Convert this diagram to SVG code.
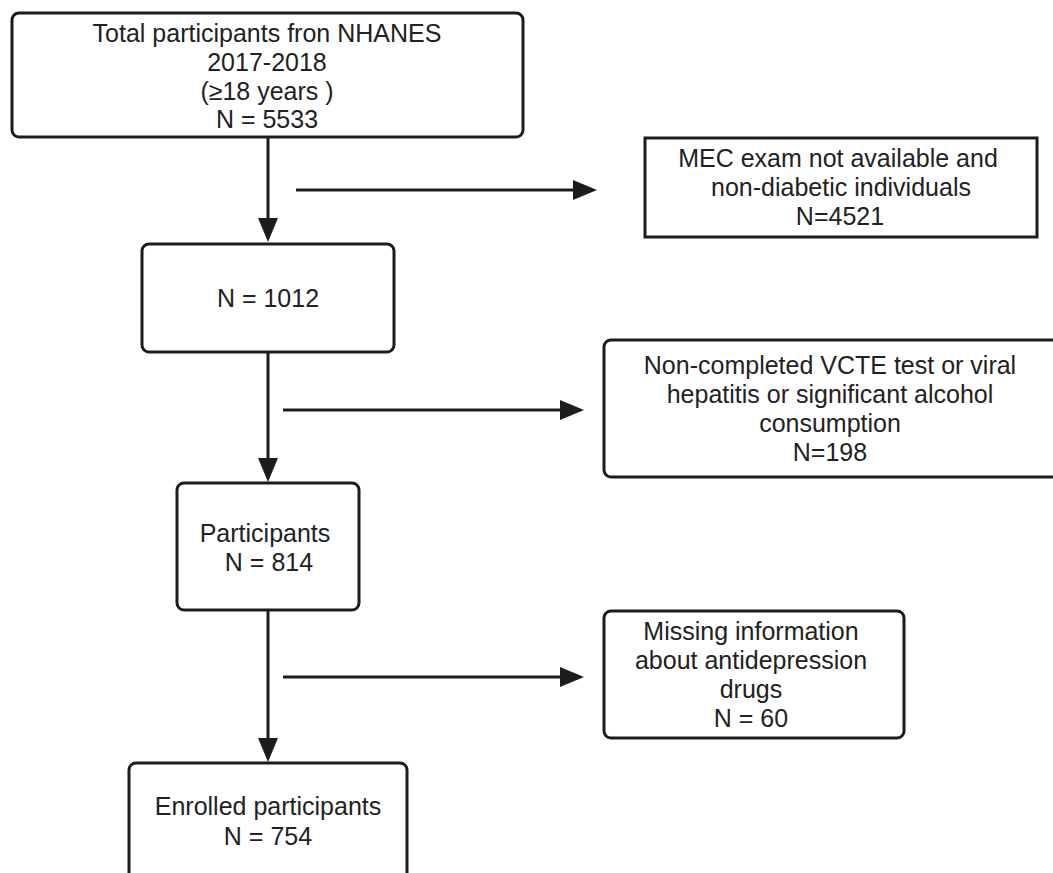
<svg xmlns="http://www.w3.org/2000/svg" width="1053" height="873" viewBox="0 0 1053 873">
  <style>
    .box { fill: #ffffff; stroke: #1c1c1c; stroke-width: 3; }
    .lbl { font-family: "Liberation Sans", Arial, sans-serif; font-size: 25px; fill: #222222; text-anchor: middle; }
    .edge { stroke: #1c1c1c; stroke-width: 3; fill: none; }
  </style>
  <defs>
    <marker id="ah" markerUnits="userSpaceOnUse" markerWidth="24" markerHeight="20" refX="14" refY="10" orient="auto">
      <path d="M0,0 L24,10 L0,20 Z" fill="#1c1c1c"/>
    </marker>
  </defs>
  <rect width="1053" height="873" fill="#ffffff"/>

  <g id="connectors">
    <line class="edge" x1="268" y1="138" x2="268" y2="232" marker-end="url(#ah)"/>
    <line class="edge" x1="296" y1="190" x2="587" y2="190" marker-end="url(#ah)"/>
    <line class="edge" x1="268" y1="352" x2="268" y2="472" marker-end="url(#ah)"/>
    <line class="edge" x1="283" y1="410" x2="574" y2="410" marker-end="url(#ah)"/>
    <line class="edge" x1="268" y1="611" x2="268" y2="752" marker-end="url(#ah)"/>
    <line class="edge" x1="283" y1="677" x2="574" y2="677" marker-end="url(#ah)"/>
  </g>

  <g id="node-total">
    <rect class="box" x="12" y="13" width="511" height="124" rx="7"/>
    <text class="lbl" x="267" y="42">Total participants fron NHANES</text>
    <text class="lbl" x="267" y="71">2017-2018</text>
    <text class="lbl" x="267" y="99.5">(≥18 years )</text>
    <text class="lbl" x="267" y="128">N = 5533</text>
  </g>

  <g id="node-mec">
    <rect class="box" x="645" y="138" width="392" height="99"/>
    <text class="lbl" x="838" y="167">MEC exam not available and</text>
    <text class="lbl" x="841" y="196">non-diabetic individuals</text>
    <text class="lbl" x="840" y="225">N=4521</text>
  </g>

  <g id="node-1012">
    <rect class="box" x="142" y="244" width="252" height="108" rx="7"/>
    <text class="lbl" x="268" y="307">N = 1012</text>
  </g>

  <g id="node-vcte">
    <rect class="box" x="604" y="340" width="470" height="137" rx="7"/>
    <text class="lbl" x="830" y="373.5">Non-completed VCTE test or viral</text>
    <text class="lbl" x="830" y="402.5">hepatitis or significant alcohol</text>
    <text class="lbl" x="830" y="431.5">consumption</text>
    <text class="lbl" x="830" y="461">N=198</text>
  </g>

  <g id="node-814">
    <rect class="box" x="177" y="483" width="182" height="127" rx="7"/>
    <text class="lbl" x="265" y="542">Participants</text>
    <text class="lbl" x="269" y="571">N = 814</text>
  </g>

  <g id="node-missing">
    <rect class="box" x="604" y="611" width="300" height="127" rx="7"/>
    <text class="lbl" x="751" y="640">Missing information</text>
    <text class="lbl" x="751" y="669">about antidepression</text>
    <text class="lbl" x="751" y="698">drugs</text>
    <text class="lbl" x="751" y="727">N = 60</text>
  </g>

  <g id="node-enrolled">
    <rect class="box" x="129" y="763" width="278" height="140" rx="7"/>
    <text class="lbl" x="268" y="815">Enrolled participants</text>
    <text class="lbl" x="268" y="845">N = 754</text>
  </g>
</svg>
